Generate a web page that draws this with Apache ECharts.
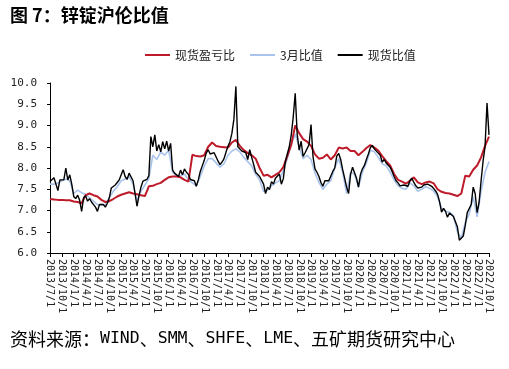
<!DOCTYPE html>
<html><head><meta charset="utf-8">
<script src="https://cdn.jsdelivr.net/npm/echarts@6/dist/echarts.min.js"></script>
<style>html,body{margin:0;padding:0;background:#fff}#c{width:509px;height:369px}</style>
</head><body><div id="c"></div>
<script>
// axis: months counted from 2013/7/1
const startYear = 2013, startMonth = 7;
const monthsSpan = 111; // 2013/7/1 .. 2022/10/1
const seriesNames = ['现货盈亏比', '3月比值', '现货比值'];
const yTicks = [6.0, 10.0, 0.5]; // min, max, step

// 现货比值 (spot ratio), semi-monthly from 2013/7/1
const spotRatio = [
 7.68,7.72,7.77,7.62,7.47,7.72,7.76,7.72,8.00,7.72,7.84,7.62,
 7.33,7.28,7.36,7.24,6.98,7.30,7.35,7.22,7.28,7.20,7.16,7.08,
 6.98,7.14,7.10,7.14,7.08,7.17,7.30,7.53,7.50,7.60,7.66,7.72,
 7.84,7.96,7.80,7.73,7.88,7.92,7.70,7.40,7.10,7.35,7.55,7.69,
 7.65,7.73,7.82,8.74,8.50,8.78,8.40,8.55,8.38,8.62,8.45,8.63,
 8.40,8.58,7.95,7.88,7.90,7.80,7.95,7.84,7.98,7.90,7.85,7.73,
 7.72,7.70,7.57,7.72,7.92,8.05,8.18,8.35,8.43,8.33,8.36,8.36,
 8.26,8.16,8.08,8.14,8.22,8.37,8.51,8.62,8.82,9.15,9.92,8.50,
 8.50,8.40,8.42,8.36,8.20,8.43,8.25,8.08,7.90,7.92,7.80,7.78,
 7.62,7.40,7.55,7.49,7.68,7.62,7.76,7.74,7.86,7.62,7.75,8.15,
 8.33,8.50,8.78,9.20,9.76,8.80,8.42,8.63,8.27,8.36,8.40,8.55,
 9.02,8.27,7.98,7.90,7.80,7.66,7.57,7.70,7.72,7.70,7.72,7.92,
 8.00,8.28,8.34,8.20,7.96,7.76,7.55,7.40,7.85,8.02,8.00,7.76,
 7.55,7.85,7.98,8.06,8.20,8.33,8.48,8.53,8.45,8.47,8.35,8.30,
 8.14,8.20,8.12,8.16,8.02,7.92,7.80,7.70,7.65,7.58,7.62,7.60,
 7.58,7.57,7.70,7.76,7.66,7.58,7.53,7.49,7.55,7.60,7.62,7.62,
 7.58,7.57,7.52,7.46,7.38,7.21,6.96,7.05,6.98,6.84,6.94,6.96,
 6.86,6.82,6.62,6.30,6.30,6.40,6.65,6.95,6.92,7.14,7.55,7.40,
 6.95,7.20,7.70,8.16,8.50,9.53,8.78
];

// 现货盈亏比 (import profit ratio), monthly from 2013/7/1
const profitRatio = [
 7.27,7.26,7.25,7.25,7.24,7.24,7.21,7.20,7.17,7.36,7.40,7.36,
 7.33,7.25,7.20,7.22,7.27,7.33,7.37,7.40,7.43,7.40,7.38,7.36,
 7.34,7.57,7.58,7.62,7.65,7.72,7.78,7.80,7.80,7.78,7.72,7.68,
 8.31,8.28,8.27,8.30,8.50,8.60,8.52,8.50,8.49,8.48,8.60,8.66,
 8.52,8.42,8.35,8.30,8.22,8.00,7.82,7.84,7.78,7.84,7.90,8.02,
 8.28,8.55,9.00,8.82,8.68,8.62,8.52,8.32,8.22,8.24,8.32,8.20,
 8.30,8.48,8.46,8.48,8.40,8.40,8.30,8.38,8.47,8.54,8.48,8.41,
 8.28,8.16,8.06,7.86,7.72,7.68,7.63,7.70,7.78,7.66,7.62,7.66,
 7.68,7.64,7.50,7.44,7.41,7.40,7.37,7.34,7.40,7.82,7.80,7.96,
 8.06,8.25,8.52,8.74
];

// 3月比值 (3-month ratio), monthly from 2013/7/1
const m3Ratio = [
 7.62,7.62,7.65,7.70,7.74,7.70,7.40,7.48,7.42,7.38,7.30,7.22,
 7.14,7.12,7.13,7.30,7.45,7.56,7.70,7.74,7.80,7.62,7.22,7.45,
 7.60,7.75,8.30,8.20,8.38,8.30,8.42,7.90,7.80,7.82,7.86,7.72,
 7.65,7.58,7.80,8.05,8.22,8.22,8.12,8.02,8.10,8.30,8.40,8.45,
 8.38,8.25,8.15,8.05,7.85,7.72,7.45,7.48,7.58,7.65,7.70,7.95,
 8.22,8.55,8.80,8.50,8.22,8.30,8.20,7.88,7.66,7.50,7.62,7.70,
 8.00,8.22,7.90,7.40,7.90,7.85,7.55,7.90,8.12,8.42,8.38,8.25,
 8.10,8.05,7.90,7.72,7.58,7.52,7.50,7.65,7.58,7.45,7.50,7.56,
 7.52,7.46,7.32,7.05,6.98,6.96,6.88,6.50,6.35,6.72,6.92,7.32,
 6.85,7.45,7.90,8.15
];

function monthLabel(m) {
  const t = startMonth - 1 + Math.round(m);
  return (startYear + Math.floor(t / 12)) + '/' + (t % 12 + 1) + '/1';
}
const spotData = spotRatio.map((v, i) => [i * 0.5, v]);
const profitData = profitRatio.map((v, i) => [i, v]);
const m3Data = m3Ratio.map((v, i) => [i, v]);

const chart = echarts.init(document.getElementById('c'), null, {renderer: 'canvas'});
const cjk = '"Noto Sans CJK SC", sans-serif';
const mono = '"DejaVu Sans Mono", "Liberation Mono", monospace';
chart.setOption({
  animation: false,
  backgroundColor: '#fff',
  title: [{
    text: '图 7：锌锭沪伦比值', left: 10, top: 6, padding: 0,
    textStyle: {fontFamily: cjk, fontSize: 18, fontWeight: 'bold', color: '#000'}
  }, {
    text: '{c|资料来源：}{m|WIND}{c|、}{m|SMM}{c|、}{m|SHFE}{c|、}{m|LME}{c|、五矿期货研究中心}',
    left: 10, top: 330, padding: 0,
    textStyle: {
      fontWeight: 'normal',
      rich: {
        c: {fontFamily: cjk, fontSize: 18, fontWeight: 'normal', color: '#000'},
        m: {fontFamily: mono, fontSize: 16.5, fontWeight: 'normal', color: '#000'}
      }
    }
  }],
  legend: {
    data: seriesNames, left: 145, top: 49, padding: 0, icon: 'rect', itemWidth: 25, itemHeight: 2,
    itemGap: 15, textStyle: {fontFamily: cjk, fontSize: 12, color: '#222'}
  },
  grid: {left: 50, right: 20, top: 83, bottom: 116, containLabel: false},
  xAxis: {
    type: 'value', min: 0, max: monthsSpan, interval: 3,
    axisLine: {lineStyle: {color: '#000', width: 1}},
    axisTick: {show: true, length: 4, lineStyle: {color: '#000'}},
    splitLine: {show: false},
    axisLabel: {
      rotate: -90, margin: 6, fontFamily: mono, fontSize: 10, color: '#222',
      showMaxLabel: true, showMinLabel: true,
      formatter: v => monthLabel(v)
    }
  },
  yAxis: {
    type: 'value', min: yTicks[0], max: yTicks[1], interval: yTicks[2],
    axisLine: {show: true, lineStyle: {color: '#000', width: 1}},
    axisTick: {show: true, length: 3, lineStyle: {color: '#000'}},
    splitLine: {show: false},
    axisLabel: {margin: 13, fontFamily: mono, fontSize: 11, color: '#222', formatter: v => v.toFixed(1)}
  },
  series: [{
    name: seriesNames[1], type: 'line', data: m3Data, showSymbol: false, z: 1,
    itemStyle: {color: '#A9C3EC'}, lineStyle: {color: '#A9C3EC', width: 1.6}
  }, {
    name: seriesNames[0], type: 'line', data: profitData, showSymbol: false, z: 2,
    itemStyle: {color: '#BE1A2A'}, lineStyle: {color: '#BE1A2A', width: 2}
  }, {
    name: seriesNames[2], type: 'line', data: spotData, showSymbol: false, z: 3,
    itemStyle: {color: '#000'}, lineStyle: {color: '#000', width: 1.4}
  }]
});
</script></body></html>
